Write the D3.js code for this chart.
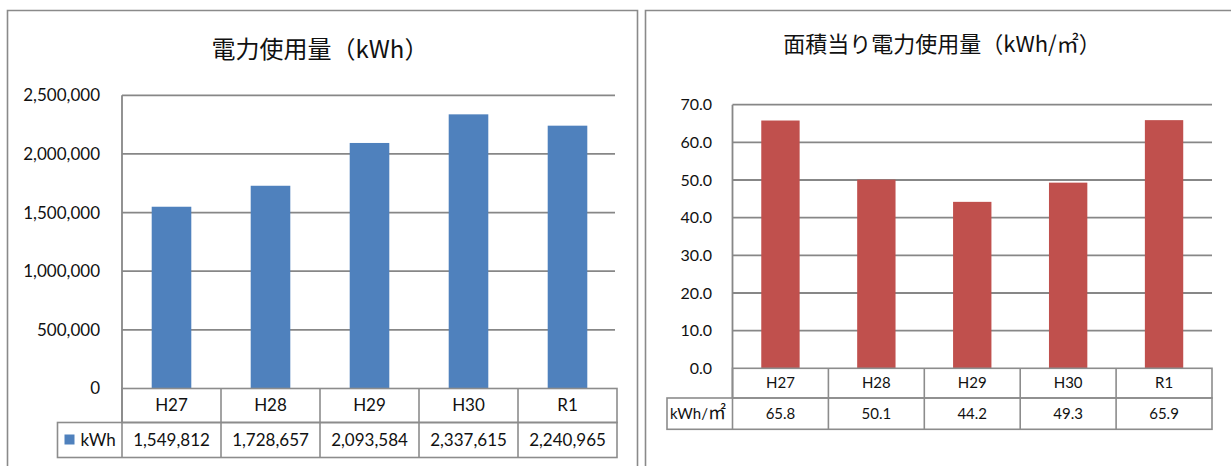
<!DOCTYPE html>
<html>
<head>
<meta charset="utf-8">
<script src="https://cdn.jsdelivr.net/npm/d3@7"></script>
<style>
  body { margin: 0; background: #fff; }
  svg { display: block; }
  text { fill: #111; }
</style>
</head>
<body>
<div id="root"></div>
<script>
// data
var categories = ["H27", "H28", "H29", "H30", "R1"];
var usageKwh = [1549812, 1728657, 2093584, 2337615, 2240965];
var usagePerArea = [65.8, 50.1, 44.2, 49.3, 65.9];
var usageTicks = [0, 500000, 1000000, 1500000, 2000000, 2500000];
var areaTicks = [0, 10, 20, 30, 40, 50, 60, 70];

var W = 1231, H = 466;
var gridColor = "#878787";
var numFont = "Lato, 'Open Sans', sans-serif";
var cjkFont = "'Noto Sans CJK JP', 'Noto Sans', sans-serif";

var svg = d3.select("#root").append("svg")
  .attr("width", W)
  .attr("height", H);

// panel frames
svg.append("path")
  .attr("d", "M7.5,470 V10.5 H637.5 V470")
  .attr("fill", "none").attr("stroke", "#8a8a8a").attr("stroke-width", 1.6);
svg.append("path")
  .attr("d", "M645.5,470 V10.5 H1240")
  .attr("fill", "none").attr("stroke", "#8a8a8a").attr("stroke-width", 1.6);

function drawPanel(o) {
  var g = svg.append("g");

  var x = d3.scaleBand()
    .domain(o.cats)
    .range([o.left, o.right])
    .paddingInner(0.6)
    .paddingOuter(0.3);

  var cell = d3.scaleBand()
    .domain(o.cats)
    .range([o.left, o.right]);

  var y = d3.scaleLinear()
    .domain([0, o.max])
    .range([o.bottom, o.top]);

  // title
  g.append("text")
    .attr("x", o.titleX)
    .attr("y", o.titleY)
    .attr("text-anchor", "middle")
    .style("font-family", cjkFont)
    .style("font-size", o.titleSize + "px")
    .text(o.title);

  // gridlines
  g.selectAll(".grid")
    .data(o.ticks.filter(function(d) { return d > 0; }))
    .enter().append("line")
    .attr("x1", o.left).attr("x2", o.gridEnd)
    .attr("y1", function(d) { return y(d); })
    .attr("y2", function(d) { return y(d); })
    .attr("stroke", gridColor).attr("stroke-width", 1.8);

  // tick labels
  g.selectAll(".tick")
    .data(o.ticks)
    .enter().append("text")
    .attr("x", o.tickX)
    .attr("y", function(d) { return y(d); })
    .attr("dy", "0.35em")
    .attr("text-anchor", "end")
    .style("font-family", numFont)
    .style("font-size", o.tickSize + "px")
    .text(o.tickFmt);

  // bars
  g.selectAll(".bar")
    .data(o.values)
    .enter().append("rect")
    .attr("x", function(d, i) { return x(o.cats[i]); })
    .attr("width", x.bandwidth())
    .attr("y", function(d) { return y(d); })
    .attr("height", function(d) { return o.bottom - y(d); })
    .attr("fill", o.color);

  // axis line
  g.append("line")
    .attr("x1", o.left).attr("x2", o.left)
    .attr("y1", o.top).attr("y2", o.row2)
    .attr("stroke", gridColor).attr("stroke-width", 1.8);

  // data table
  var tl = "#8c8c8c";
  var tw = 1.6;
  g.append("rect")
    .attr("x", o.left).attr("y", o.bottom)
    .attr("width", o.right - o.left).attr("height", o.row2 - o.bottom)
    .attr("fill", "none").attr("stroke", tl).attr("stroke-width", tw);
  g.append("rect")
    .attr("x", o.labelLeft).attr("y", o.row2)
    .attr("width", o.right - o.labelLeft).attr("height", o.row3 - o.row2)
    .attr("fill", "none").attr("stroke", tl).attr("stroke-width", tw);
  g.selectAll(".sep")
    .data(o.cats.slice(1))
    .enter().append("line")
    .attr("x1", function(d) { return cell(d); })
    .attr("x2", function(d) { return cell(d); })
    .attr("y1", o.bottom).attr("y2", o.row3)
    .attr("stroke", tl).attr("stroke-width", tw);
  g.append("line")
    .attr("x1", o.left).attr("x2", o.left)
    .attr("y1", o.row2).attr("y2", o.row3)
    .attr("stroke", tl).attr("stroke-width", tw);

  g.selectAll(".cat")
    .data(o.cats)
    .enter().append("text")
    .attr("x", function(d) { return cell(d) + cell.bandwidth() / 2; })
    .attr("y", (o.bottom + o.row2) / 2)
    .attr("dy", "0.35em")
    .attr("text-anchor", "middle")
    .style("font-family", numFont)
    .style("font-size", o.cellSize + "px")
    .text(function(d) { return d; });

  g.selectAll(".val")
    .data(o.values)
    .enter().append("text")
    .attr("x", function(d, i) { return cell(o.cats[i]) + cell.bandwidth() / 2; })
    .attr("y", (o.row2 + o.row3) / 2)
    .attr("dy", "0.35em")
    .attr("text-anchor", "middle")
    .style("font-family", numFont)
    .style("font-size", o.cellSize + "px")
    .text(o.valFmt);

  // row label
  var lx = o.labelLeft + 3;
  if (o.legendKey) {
    g.append("rect")
      .attr("x", lx + 4).attr("y", (o.row2 + o.row3) / 2 - 5.5)
      .attr("width", 10).attr("height", 10)
      .attr("fill", o.color);
    lx += 20;
  }
  var lab = g.append("text")
    .attr("x", lx)
    .attr("y", (o.row2 + o.row3) / 2)
    .attr("dy", "0.35em")
    .style("font-family", numFont)
    .style("font-size", o.cellSize + "px");
  lab.append("tspan").text(o.rowLabel);
  if (o.rowUnit) {
    lab.append("tspan")
      .style("font-family", cjkFont)
      .style("font-size", (o.cellSize + 3) + "px")
      .text(o.rowUnit);
  }
}

drawPanel({
  cats: categories,
  values: usageKwh,
  ticks: usageTicks,
  max: 2500000,
  left: 122, right: 617, gridEnd: 615,
  top: 95.3, bottom: 388.5, row2: 422.5, row3: 457.5,
  labelLeft: 57.5,
  color: "#4f81bd",
  title: "電力使用量（kWh）",
  titleX: 320, titleY: 58, titleSize: 24,
  tickX: 100, tickSize: 17, cellSize: 17,
  tickFmt: d3.format(","),
  valFmt: d3.format(","),
  rowLabel: "kWh",
  legendKey: true
});

drawPanel({
  cats: categories,
  values: usagePerArea,
  ticks: areaTicks,
  max: 70,
  left: 732.5, right: 1212, gridEnd: 1212,
  top: 104.7, bottom: 368.3, row2: 398, row3: 429.3,
  labelLeft: 667,
  color: "#c0504d",
  title: "面積当り電力使用量（kWh/㎡）",
  titleX: 942, titleY: 52, titleSize: 22,
  tickX: 712, tickSize: 16, cellSize: 15,
  tickFmt: d3.format(".1f"),
  valFmt: d3.format(".1f"),
  rowLabel: "kWh/",
  rowUnit: "㎡",
  legendKey: false
});
</script>
</body>
</html>
